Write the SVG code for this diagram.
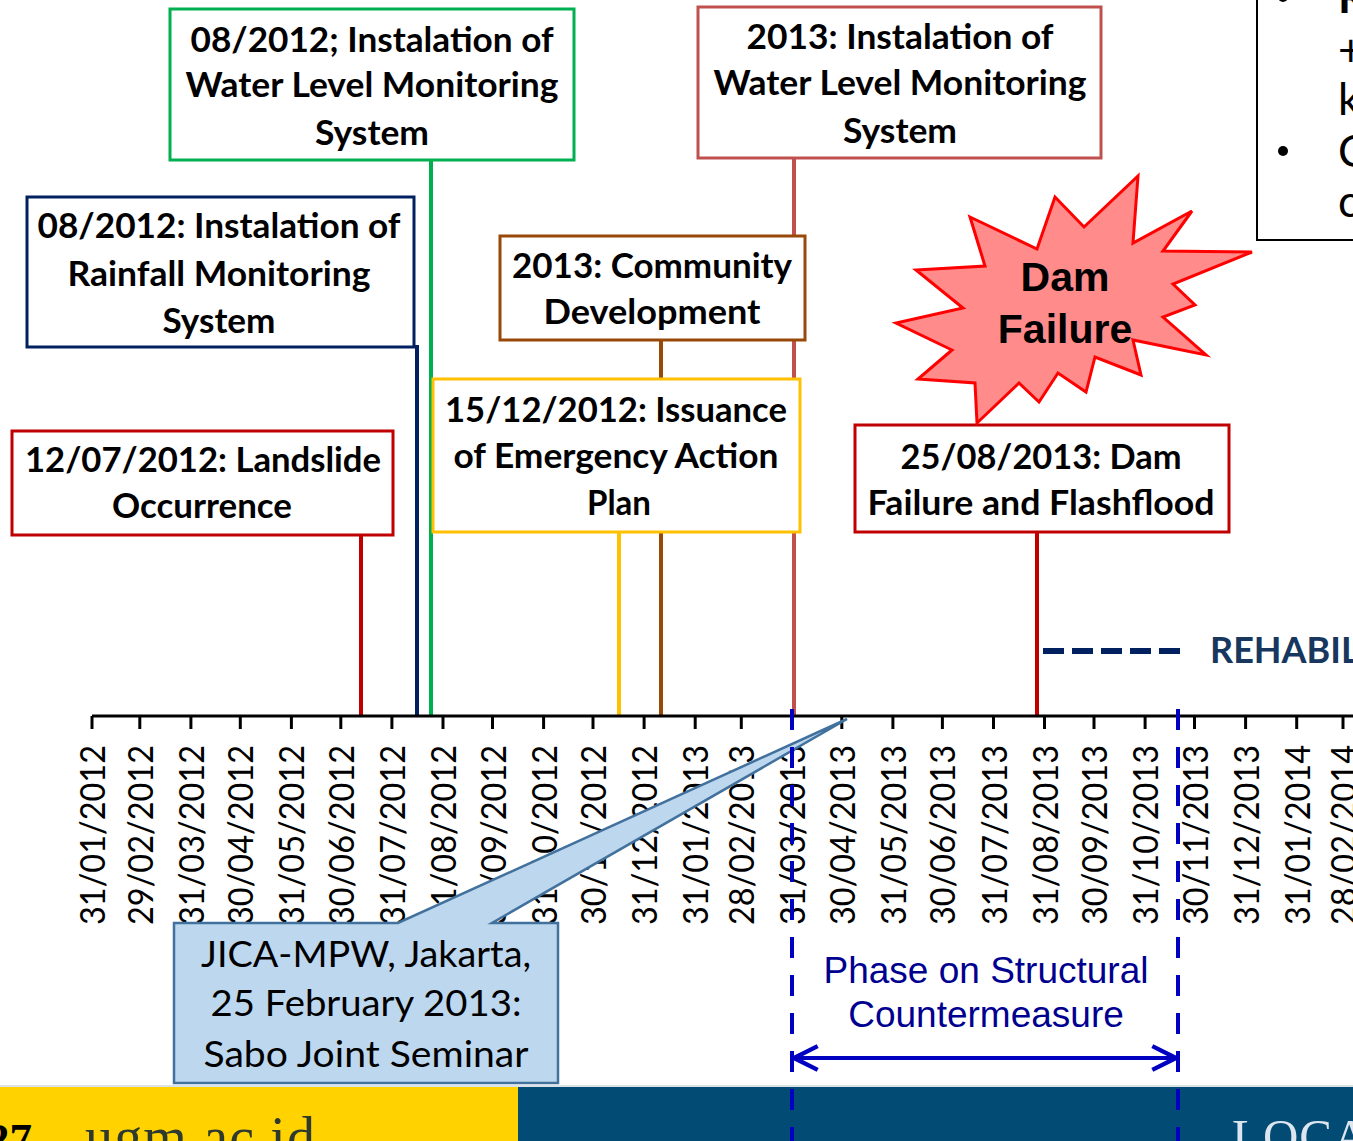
<svg xmlns="http://www.w3.org/2000/svg" width="1353" height="1141" viewBox="0 0 1353 1141">
<style>
.bx{fill:#ffffff;stroke-width:3}
.bt{font-family:Lato,"Liberation Sans",sans-serif;font-weight:700;font-size:34px;fill:#000;text-anchor:middle}
.ax{font-family:Lato,"Liberation Sans",sans-serif;font-size:35px;fill:#000;text-anchor:end}
.ev{stroke-width:4;fill:none}
.tick{stroke:#000;stroke-width:3}
.cl{font-family:Lato,"Liberation Sans",sans-serif;font-size:36px;fill:#000;text-anchor:middle}
.ph{font-family:"Liberation Sans",Arial,sans-serif;font-size:37px;fill:#000090;text-anchor:middle}
.tr{font-family:Lato,"Liberation Sans",sans-serif;font-size:44px;fill:#000}
.vd{stroke:#0000C0;stroke-width:4;stroke-dasharray:21 17;fill:none}
</style>
<defs>
<marker id="ah" markerUnits="userSpaceOnUse" markerWidth="28" markerHeight="28" viewBox="0 0 26 26" refX="24" refY="13" orient="auto-start-reverse">
<path d="M2,2 L24,13 L2,24" fill="none" stroke="#0000C0" stroke-width="4"/>
</marker>
</defs>
<rect x="0" y="0" width="1353" height="1141" fill="#ffffff"/>

<!-- top-right text box (clipped) -->
<g id="node-topright">
<rect x="1257" y="-10" width="120" height="250" fill="#ffffff" stroke="#000" stroke-width="2"/>
<circle cx="1283" cy="-3" r="5" fill="#000"/>
<text class="tr" x="1338" y="13" font-weight="700">R</text>
<text class="tr" x="1338" y="66">+</text>
<text class="tr" x="1338" y="115">k</text>
<circle cx="1283" cy="151" r="5" fill="#000"/>
<text class="tr" x="1338" y="167">C</text>
<text class="tr" x="1338" y="217">c</text>
</g>

<!-- connectors: event lines to the axis -->
<g id="connectors">
<line class="ev" x1="361" y1="535" x2="361" y2="716" stroke="#C00000"/>
<line class="ev" x1="417" y1="345" x2="417" y2="716" stroke="#002060"/>
<line class="ev" x1="431" y1="160" x2="431" y2="716" stroke="#00B050"/>
<line class="ev" x1="619" y1="532" x2="619" y2="716" stroke="#FFC000"/>
<line class="ev" x1="661" y1="340" x2="661" y2="716" stroke="#984807"/>
<line class="ev" x1="794" y1="158" x2="794" y2="716" stroke="#C0504D"/>
<line class="ev" x1="1037" y1="532" x2="1037" y2="716" stroke="#C00000"/>
<line x1="1043" y1="651" x2="1183" y2="651" stroke="#002060" stroke-width="6" stroke-dasharray="21 8"/>
</g>

<g id="node-wl2012">
<rect class="bx" x="170" y="9" width="404" height="151" stroke="#00B050"/>
<text class="bt" x="372" y="52" textLength="363" lengthAdjust="spacingAndGlyphs">08/2012; Instalation of</text>
<text class="bt" x="372" y="97" textLength="373" lengthAdjust="spacingAndGlyphs">Water Level Monitoring</text>
<text class="bt" x="372" y="145" textLength="114" lengthAdjust="spacingAndGlyphs">System</text>
</g>

<g id="node-rainfall">
<rect class="bx" x="27" y="197" width="387" height="150" stroke="#002060"/>
<text class="bt" x="219" y="238" textLength="363" lengthAdjust="spacingAndGlyphs">08/2012: Instalation of</text>
<text class="bt" x="219" y="286" textLength="303" lengthAdjust="spacingAndGlyphs">Rainfall Monitoring</text>
<text class="bt" x="219" y="333" textLength="113" lengthAdjust="spacingAndGlyphs">System</text>
</g>

<g id="node-landslide">
<rect class="bx" x="12" y="431" width="381" height="104" stroke="#C00000"/>
<text class="bt" x="203" y="472" textLength="356" lengthAdjust="spacingAndGlyphs">12/07/2012: Landslide</text>
<text class="bt" x="202" y="518" textLength="180" lengthAdjust="spacingAndGlyphs">Occurrence</text>
</g>

<g id="node-community">
<rect class="bx" x="500" y="236" width="305" height="104" stroke="#984807"/>
<text class="bt" x="652" y="278" textLength="280" lengthAdjust="spacingAndGlyphs">2013: Community</text>
<text class="bt" x="652" y="324" textLength="217" lengthAdjust="spacingAndGlyphs">Development</text>
</g>

<g id="node-eap">
<rect class="bx" x="433" y="379" width="367" height="153" stroke="#FFC000"/>
<text class="bt" x="616" y="422" textLength="342" lengthAdjust="spacingAndGlyphs">15/12/2012: Issuance</text>
<text class="bt" x="616" y="468" textLength="325" lengthAdjust="spacingAndGlyphs">of Emergency Action</text>
<text class="bt" x="619" y="515" textLength="64" lengthAdjust="spacingAndGlyphs">Plan</text>
</g>

<g id="node-wl2013">
<rect class="bx" x="698" y="7" width="403" height="151" stroke="#C0504D"/>
<text class="bt" x="900" y="49" textLength="307" lengthAdjust="spacingAndGlyphs">2013: Instalation of</text>
<text class="bt" x="900" y="95" textLength="373" lengthAdjust="spacingAndGlyphs">Water Level Monitoring</text>
<text class="bt" x="900" y="143" textLength="114" lengthAdjust="spacingAndGlyphs">System</text>
</g>

<g id="node-dam">
<rect class="bx" x="855" y="425" width="374" height="107" stroke="#C00000"/>
<text class="bt" x="1041" y="469" textLength="281" lengthAdjust="spacingAndGlyphs">25/08/2013: Dam</text>
<text class="bt" x="1041" y="515" textLength="347" lengthAdjust="spacingAndGlyphs">Failure and Flashflood</text>
</g>

<g id="node-star">
<polygon points="970,217 1037,249 1055,197 1084,227 1138,176 1133,243 1192,211 1163,251 1252,252 1173,284 1195,305 1163,317 1206,355 1133,340 1141,375 1095,357 1086,392 1058,373 1039,402 1019,383 977,423 975,383 918,379 952,350 896,323 963,308 916,270 985,266" fill="#FF8B8B" stroke="#FF0000" stroke-width="3" stroke-linejoin="miter"/>
<text x="1065" y="291" font-family="'Liberation Sans',Arial,sans-serif" font-weight="700" font-size="41" text-anchor="middle" fill="#000">Dam</text>
<text x="1065" y="343" font-family="'Liberation Sans',Arial,sans-serif" font-weight="700" font-size="41" text-anchor="middle" fill="#000">Failure</text>
</g>

<g id="node-rehab">
<text x="1210" y="663" font-family="Lato,'Liberation Sans',sans-serif" font-weight="700" font-size="36" fill="#17375E">REHABIL</text>
</g>

<!-- time axis -->
<g id="axis">
<line x1="92" y1="716" x2="1353" y2="716" stroke="#000" stroke-width="3"/>
<g class="tick">
<line x1="92" y1="716" x2="92" y2="729"/>
<line x1="139.8" y1="716" x2="139.8" y2="729"/>
<line x1="190.9" y1="716" x2="190.9" y2="729"/>
<line x1="240.3" y1="716" x2="240.3" y2="729"/>
<line x1="291.4" y1="716" x2="291.4" y2="729"/>
<line x1="340.8" y1="716" x2="340.8" y2="729"/>
<line x1="391.9" y1="716" x2="391.9" y2="729"/>
<line x1="443" y1="716" x2="443" y2="729"/>
<line x1="492.5" y1="716" x2="492.5" y2="729"/>
<line x1="543.6" y1="716" x2="543.6" y2="729"/>
<line x1="593" y1="716" x2="593" y2="729"/>
<line x1="644.1" y1="716" x2="644.1" y2="729"/>
<line x1="695.2" y1="716" x2="695.2" y2="729"/>
<line x1="741.3" y1="716" x2="741.3" y2="729"/>
<line x1="792.4" y1="716" x2="792.4" y2="729"/>
<line x1="841.8" y1="716" x2="841.8" y2="729"/>
<line x1="892.9" y1="716" x2="892.9" y2="729"/>
<line x1="942.4" y1="716" x2="942.4" y2="729"/>
<line x1="993.5" y1="716" x2="993.5" y2="729"/>
<line x1="1044.5" y1="716" x2="1044.5" y2="729"/>
<line x1="1094" y1="716" x2="1094" y2="729"/>
<line x1="1145.1" y1="716" x2="1145.1" y2="729"/>
<line x1="1194.5" y1="716" x2="1194.5" y2="729"/>
<line x1="1245.6" y1="716" x2="1245.6" y2="729"/>
<line x1="1296.7" y1="716" x2="1296.7" y2="729"/>
<line x1="1343" y1="716" x2="1343" y2="729"/>
</g>
<g class="ax">
<text transform="translate(105,745) rotate(-90)" textLength="180" lengthAdjust="spacingAndGlyphs">31/01/2012</text>
<text transform="translate(152.8,745) rotate(-90)" textLength="180" lengthAdjust="spacingAndGlyphs">29/02/2012</text>
<text transform="translate(203.9,745) rotate(-90)" textLength="180" lengthAdjust="spacingAndGlyphs">31/03/2012</text>
<text transform="translate(253.3,745) rotate(-90)" textLength="180" lengthAdjust="spacingAndGlyphs">30/04/2012</text>
<text transform="translate(304.4,745) rotate(-90)" textLength="180" lengthAdjust="spacingAndGlyphs">31/05/2012</text>
<text transform="translate(353.8,745) rotate(-90)" textLength="180" lengthAdjust="spacingAndGlyphs">30/06/2012</text>
<text transform="translate(404.9,745) rotate(-90)" textLength="180" lengthAdjust="spacingAndGlyphs">31/07/2012</text>
<text transform="translate(456,745) rotate(-90)" textLength="180" lengthAdjust="spacingAndGlyphs">31/08/2012</text>
<text transform="translate(505.5,745) rotate(-90)" textLength="180" lengthAdjust="spacingAndGlyphs">30/09/2012</text>
<text transform="translate(556.6,745) rotate(-90)" textLength="180" lengthAdjust="spacingAndGlyphs">31/10/2012</text>
<text transform="translate(606,745) rotate(-90)" textLength="180" lengthAdjust="spacingAndGlyphs">30/11/2012</text>
<text transform="translate(657.1,745) rotate(-90)" textLength="180" lengthAdjust="spacingAndGlyphs">31/12/2012</text>
<text transform="translate(708.2,745) rotate(-90)" textLength="180" lengthAdjust="spacingAndGlyphs">31/01/2013</text>
<text transform="translate(754.3,745) rotate(-90)" textLength="180" lengthAdjust="spacingAndGlyphs">28/02/2013</text>
<text transform="translate(805.4,745) rotate(-90)" textLength="180" lengthAdjust="spacingAndGlyphs">31/03/2013</text>
<text transform="translate(854.8,745) rotate(-90)" textLength="180" lengthAdjust="spacingAndGlyphs">30/04/2013</text>
<text transform="translate(905.9,745) rotate(-90)" textLength="180" lengthAdjust="spacingAndGlyphs">31/05/2013</text>
<text transform="translate(955.4,745) rotate(-90)" textLength="180" lengthAdjust="spacingAndGlyphs">30/06/2013</text>
<text transform="translate(1006.5,745) rotate(-90)" textLength="180" lengthAdjust="spacingAndGlyphs">31/07/2013</text>
<text transform="translate(1057.5,745) rotate(-90)" textLength="180" lengthAdjust="spacingAndGlyphs">31/08/2013</text>
<text transform="translate(1107,745) rotate(-90)" textLength="180" lengthAdjust="spacingAndGlyphs">30/09/2013</text>
<text transform="translate(1158.1,745) rotate(-90)" textLength="180" lengthAdjust="spacingAndGlyphs">31/10/2013</text>
<text transform="translate(1207.5,745) rotate(-90)" textLength="180" lengthAdjust="spacingAndGlyphs">30/11/2013</text>
<text transform="translate(1258.6,745) rotate(-90)" textLength="180" lengthAdjust="spacingAndGlyphs">31/12/2013</text>
<text transform="translate(1309.7,745) rotate(-90)" textLength="180" lengthAdjust="spacingAndGlyphs">31/01/2014</text>
<text transform="translate(1356,745) rotate(-90)" textLength="180" lengthAdjust="spacingAndGlyphs">28/02/2014</text>
</g>
</g>

<!-- footer band -->
<g id="footer">
<rect x="0" y="1087" width="518" height="54" fill="#FFD200"/>
<rect x="518" y="1087" width="835" height="54" fill="#014B75"/>
<line x1="0" y1="1086" x2="1353" y2="1086" stroke="#D9E2E8" stroke-width="2"/>
<text x="-13" y="1154" font-family="'Liberation Serif','Times New Roman',serif" font-weight="700" font-size="45" fill="#000">27</text>
<text x="85" y="1156" font-family="'Liberation Serif','Times New Roman',serif" font-size="56" fill="#2E3A2E" textLength="230" lengthAdjust="spacing">ugm.ac.id</text>
<text x="1232" y="1153" font-family="'Liberation Serif','Times New Roman',serif" font-size="49" fill="#DDE6EE" letter-spacing="1">LOCA</text>
</g>

<g id="node-callout">
<path d="M174,923 L398,923 L847,719 L492,923 L558,923 L558,1083 L174,1083 Z" fill="#BDD7EE" stroke="#41719C" stroke-width="2.5" stroke-linejoin="miter"/>
<text class="cl" x="366" y="967" textLength="330" lengthAdjust="spacingAndGlyphs">JICA-MPW, Jakarta,</text>
<text class="cl" x="366" y="1016" textLength="311" lengthAdjust="spacingAndGlyphs">25 February 2013:</text>
<text class="cl" x="366" y="1067" textLength="325" lengthAdjust="spacingAndGlyphs">Sabo Joint Seminar</text>
</g>

<g id="node-phase">
<line class="vd" x1="792" y1="709" x2="792" y2="1141"/>
<line class="vd" x1="1178" y1="709" x2="1178" y2="1141"/>
<text class="ph" x="986" y="983">Phase on Structural</text>
<text class="ph" x="986" y="1027">Countermeasure</text>
<line x1="794" y1="1058" x2="1176" y2="1058" stroke="#0000C0" stroke-width="4" marker-start="url(#ah)" marker-end="url(#ah)"/>
</g>
</svg>
